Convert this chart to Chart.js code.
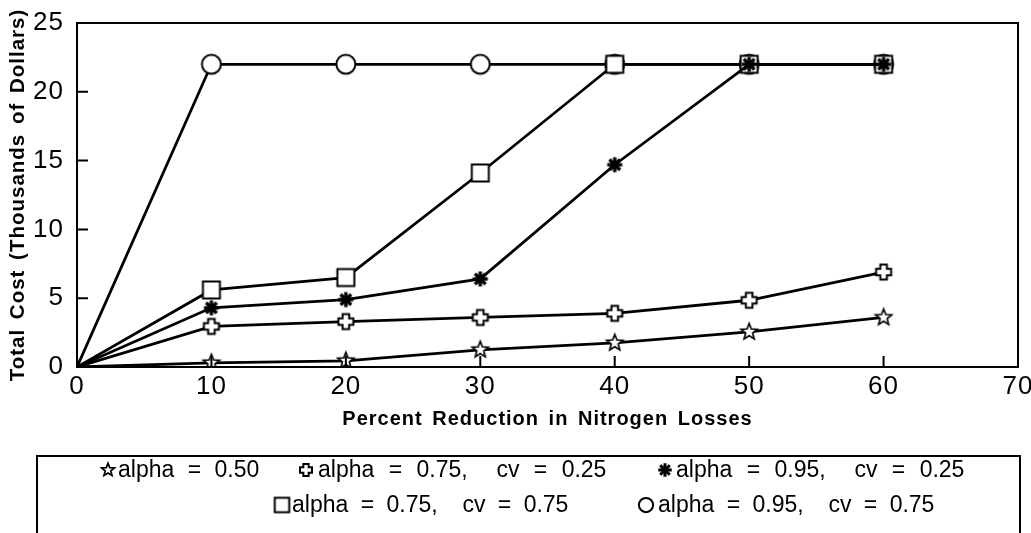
<!DOCTYPE html>
<html>
<head>
<meta charset="utf-8">
<script src="https://cdn.jsdelivr.net/npm/chart.js@4.4.1/dist/chart.umd.min.js"></script>
<style>
  html, body { margin: 0; padding: 0; background: #fff; }
</style>
</head>
<body>
<canvas id="myChart" width="1031" height="533"></canvas>
<script>
'use strict';

// DATA
let reductions = [0, 10, 20, 30, 40, 50, 60];
let xTicks = [0, 10, 20, 30, 40, 50, 60, 70];
let yTicks = [0, 5, 10, 15, 20, 25];

let seriesLabels = [
  'alpha = 0.50',
  'alpha = 0.75,  cv = 0.25',
  'alpha = 0.95,  cv = 0.25',
  'alpha = 0.75,  cv = 0.75',
  'alpha = 0.95,  cv = 0.75'
];

let costA50 = [0, 0.3, 0.45, 1.25, 1.75, 2.55, 3.6];
let costA75cv25 = [0, 2.95, 3.3, 3.6, 3.9, 4.85, 6.9];
let costA95cv25 = [0, 4.3, 4.9, 6.4, 14.7, 22, 22];
let costA75cv75 = [0, 5.6, 6.5, 14.1, 22, 22, 22];
let costA95cv75 = [0, 22, 22, 22, 22, 22, 22];

const FONT = "'Liberation Sans', Arial, Helvetica, sans-serif";

// MARKERS (little canvases used as point styles)
function makeMarker(size, draw) {
  let c = document.createElement('canvas');
  c.width = size;
  c.height = size;
  let g = c.getContext('2d');
  g.translate(size / 2, size / 2);
  g.strokeStyle = '#000';
  g.fillStyle = '#fff';
  g.lineJoin = 'miter';
  draw(g);
  return c;
}

function openStar(s) {
  return makeMarker(Math.ceil(22 * s), function (g) {
    g.beginPath();
    for (let i = 0; i < 10; i++) {
      let r = (i % 2 === 0 ? 8.5 : 3.7) * s;
      let a = -Math.PI / 2 + i * Math.PI / 5;
      g.lineTo(r * Math.cos(a), r * Math.sin(a));
    }
    g.closePath();
    g.fill();
    g.lineWidth = 1.7;
    g.stroke();
  });
}

function openPlus(s) {
  return makeMarker(Math.ceil(22 * s), function (g) {
    let w = 3.3 * s, l = 7.5 * s;
    g.beginPath();
    g.moveTo(-w, -l); g.lineTo(w, -l); g.lineTo(w, -w); g.lineTo(l, -w);
    g.lineTo(l, w); g.lineTo(w, w); g.lineTo(w, l); g.lineTo(-w, l);
    g.lineTo(-w, w); g.lineTo(-l, w); g.lineTo(-l, -w); g.lineTo(-w, -w);
    g.closePath();
    g.fill();
    g.lineWidth = 2;
    g.stroke();
  });
}

function boldAsterisk(s) {
  return makeMarker(Math.ceil(22 * s), function (g) {
    g.lineWidth = 3.4 * s;
    g.lineCap = 'butt';
    for (let i = 0; i < 4; i++) {
      let a = i * Math.PI / 4;
      g.beginPath();
      g.moveTo(-7.5 * s * Math.cos(a), -7.5 * s * Math.sin(a));
      g.lineTo(7.5 * s * Math.cos(a), 7.5 * s * Math.sin(a));
      g.stroke();
    }
    g.fillStyle = '#000';
    g.beginPath();
    g.arc(0, 0, 3.6 * s, 0, Math.PI * 2);
    g.fill();
  });
}

function openSquare(s) {
  return makeMarker(Math.ceil(24 * s), function (g) {
    let h = 8.5 * s;
    g.fillRect(-h, -h, 2 * h, 2 * h);
    g.lineWidth = 2;
    g.strokeRect(-h, -h, 2 * h, 2 * h);
  });
}

function openCircle(s) {
  return makeMarker(Math.ceil(24 * s), function (g) {
    g.beginPath();
    g.arc(0, 0, 9.5 * s, 0, Math.PI * 2);
    g.fill();
    g.lineWidth = 2;
    g.stroke();
  });
}

let pointMarkers = [openStar(1), openPlus(1), boldAsterisk(1), openSquare(1), openCircle(1)];
let legendMarkers = [openStar(0.8), openPlus(0.8), boldAsterisk(0.9), openSquare(0.85), openCircle(0.75)];
let seriesValues = [costA50, costA75cv25, costA95cv25, costA75cv75, costA95cv75];
// circle lowest, then square, asterisk, cross, star on top
let drawOrder = [1, 2, 3, 4, 5];

function buildDatasets() {
  let sets = [];
  for (let i = 0; i < seriesLabels.length; i++) {
    sets.push({
      label: seriesLabels[i],
      data: reductions.map((x, j) => ({ x: x, y: seriesValues[i][j] })),
      borderColor: '#000',
      borderWidth: 2.8,
      pointStyle: pointMarkers[i],
      pointRadius: ctx => (ctx.dataIndex === 0 ? 0 : 8),
      pointHoverRadius: ctx => (ctx.dataIndex === 0 ? 0 : 8),
      tension: 0,
      order: drawOrder[i]
    });
  }
  return sets;
}

// legend spots: marker x, text start, row y, word gap
let legendSpots = [
  [108, 118, 470, '7px'],
  [306, 318, 470, '8px'],
  [665, 676, 470, '8px'],
  [282, 292, 505, '6px'],
  [646, 658, 505, '6px']
];

// frame, inward tick marks and the boxed legend
const framePlugin = {
  id: 'frame',
  beforeDraw(chart) {
    chart.ctx.letterSpacing = '1px';
    chart.ctx.wordSpacing = '3px';
  },
  afterDatasetsDraw(chart) {
    let ctx = chart.ctx;
    let a = chart.chartArea;
    let xs = chart.scales.x;
    let ys = chart.scales.y;
    ctx.save();
    ctx.strokeStyle = '#000';
    ctx.lineWidth = 2;
    ctx.strokeRect(a.left, a.top, a.right - a.left, a.bottom - a.top);
    ctx.beginPath();
    for (let v of xTicks) {
      let px = xs.getPixelForValue(v);
      ctx.moveTo(px, a.bottom);
      ctx.lineTo(px, a.bottom - 11);
    }
    for (let v of yTicks) {
      let py = ys.getPixelForValue(v);
      ctx.moveTo(a.left, py);
      ctx.lineTo(a.left + 11, py);
    }
    ctx.stroke();
    ctx.restore();
  },
  afterDraw(chart) {
    let ctx = chart.ctx;
    ctx.save();
    ctx.strokeStyle = '#000';
    ctx.lineWidth = 2;
    ctx.strokeRect(37, 456, 983, 90);
    ctx.font = '23px ' + FONT;
    ctx.fillStyle = '#000';
    ctx.textBaseline = 'middle';
    ctx.letterSpacing = '0px';
    for (let i = 0; i < seriesLabels.length; i++) {
      let m = legendMarkers[i];
      let [mx, tx, my, gap] = legendSpots[i];
      ctx.wordSpacing = gap;
      ctx.drawImage(m, mx - m.width / 2, my - m.height / 2);
      ctx.fillText(seriesLabels[i], tx, my + 1);
    }
    ctx.restore();
  }
};

let canvasChart = document.getElementById('myChart');
const myChart = new Chart(canvasChart, {
  type: 'line',
  data: { datasets: buildDatasets() },
  options: {
    responsive: false,
    animation: false,
    devicePixelRatio: 1,
    layout: { padding: { left: 0, right: 13, top: 23, bottom: 0 } },
    plugins: { legend: { display: false }, tooltip: { enabled: false } },
    scales: {
      x: {
        type: 'linear',
        min: 0,
        max: 70,
        afterBuildTicks: axis => { axis.ticks = xTicks.map(v => ({ value: v })); },
        afterFit: axis => { axis.height = 166; axis.paddingLeft = 0; axis.paddingRight = 0; },
        grid: { display: false },
        border: { display: false },
        ticks: { color: '#000', padding: -4, font: { family: FONT, size: 26 }, maxRotation: 0 },
        title: {
          display: true,
          text: 'Percent Reduction in Nitrogen Losses',
          color: '#000',
          font: { family: FONT, size: 20, weight: 'bold' },
          padding: { top: 0, bottom: 102 }
        }
      },
      y: {
        type: 'linear',
        min: 0,
        max: 25,
        afterBuildTicks: axis => { axis.ticks = yTicks.map(v => ({ value: v })); },
        afterFit: axis => { axis.width = 77; axis.paddingTop = 0; axis.paddingBottom = 0; },
        grid: { display: false },
        border: { display: false },
        ticks: { color: '#000', padding: 5, font: { family: FONT, size: 26 } },
        title: {
          display: true,
          text: 'Total Cost (Thousands of Dollars)',
          color: '#000',
          font: { family: FONT, size: 20.5, weight: 'bold' },
          padding: { top: 6, bottom: 0 }
        }
      }
    }
  },
  plugins: [framePlugin]
});
</script>
</body>
</html>
